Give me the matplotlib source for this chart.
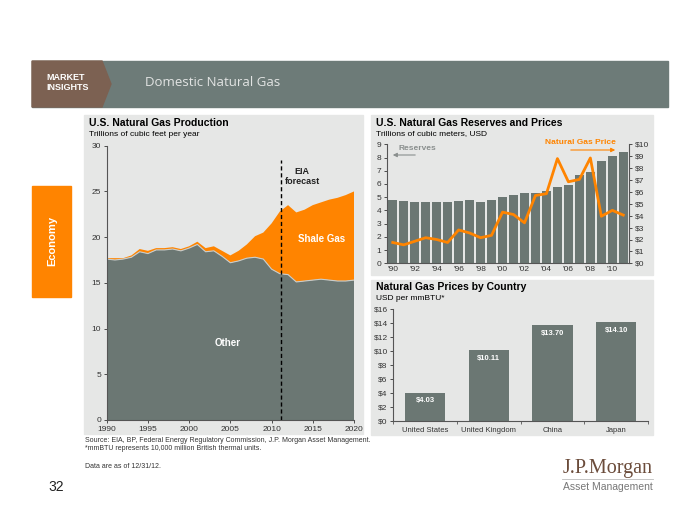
import numpy as np
import matplotlib
matplotlib.use('Agg')
import matplotlib.pyplot as plt
from matplotlib.patches import Rectangle, Polygon

plt.rcParams['font.family'] = ['Liberation Sans', 'DejaVu Sans']

# --- data ---
years = list(range(1990, 2021))
other = [17.6, 17.5, 17.6, 17.8, 18.4, 18.2, 18.6, 18.6, 18.7, 18.5, 18.8,
         19.2, 18.4, 18.5, 17.9, 17.2, 17.4, 17.7, 17.8, 17.6, 16.5,
         16.0, 15.9, 15.1, 15.2, 15.3, 15.4, 15.3, 15.2, 15.2, 15.3]
shale = [0.1, 0.2, 0.1, 0.2, 0.3, 0.3, 0.2, 0.2, 0.2, 0.2, 0.2,
         0.3, 0.4, 0.5, 0.6, 0.8, 1.1, 1.5, 2.3, 2.9, 5.0,
         6.8, 7.6, 7.6, 7.8, 8.2, 8.4, 8.8, 9.1, 9.4, 9.7]
forecast_start = 2011.2

res_years = list(range(1990, 2012))
reserves = [4.8, 4.7, 4.65, 4.6, 4.65, 4.65, 4.7, 4.75, 4.65, 4.75, 5.0,
            5.2, 5.3, 5.35, 5.45, 5.75, 5.95, 6.7, 6.9, 7.7, 8.15, 8.45]
gas_price = [1.75, 1.55, 1.85, 2.15, 2.0, 1.75, 2.8, 2.55, 2.15, 2.35, 4.3,
             4.1, 3.4, 5.7, 5.85, 8.8, 6.85, 7.05, 8.85, 3.95, 4.45, 4.05]
res_tick_years = list(range(1990, 2012, 2))
res_tick_labels = ["'90", "'92", "'94", "'96", "'98", "'00", "'02", "'04", "'06", "'08", "'10"]

countries = ['United States', 'United Kingdom', 'China', 'Japan']
country_price = [4.03, 10.11, 13.70, 14.10]

GRAY = '#6b7773'
ORANGE = '#ff8400'
PANEL = '#e6e7e6'
W, H = 700, 525

fig = plt.figure(figsize=(7, 5.25), dpi=100)


def box(l, t, r, b):
    return [l / W, 1 - b / H, (r - l) / W, (b - t) / H]


def pt(x, y):
    return (x / W, 1 - y / H)


def rect(l, t, r, b, color):
    fig.patches.append(Rectangle(pt(l, b), (r - l) / W, (b - t) / H,
                                 transform=fig.transFigure, color=color, zorder=-2))


# header band
rect(32, 61, 668, 107, '#6d7b78')
fig.patches.append(Polygon([pt(32, 61), pt(102, 61), pt(111, 84), pt(102, 107), pt(32, 107)],
                           closed=True, transform=fig.transFigure, color='#7c6152', zorder=-1))
fig.text(*pt(46, 77), 'MARKET', color='white', fontsize=6.5, fontweight='bold', va='center')
fig.text(*pt(46, 88), 'INSIGHTS', color='white', fontsize=6.5, fontweight='bold', va='center')
fig.text(*pt(145, 83), 'Domestic Natural Gas', color='#e2e4e3', fontsize=9.5,
         family='Open Sans', va='center')

# side tab
rect(32, 186, 71, 297, ORANGE)
fig.text(*pt(52, 241), 'Economy', color='white', fontsize=8, fontweight='bold',
         rotation=90, ha='center', va='center')

# panels
rect(84, 115, 363, 434, PANEL)
rect(371, 115, 653, 275, PANEL)
rect(371, 280, 653, 435, PANEL)


def style(ax):
    ax.set_facecolor('none')
    for s in ['top', 'right']:
        ax.spines[s].set_visible(False)
    for s in ax.spines.values():
        s.set_color('#555555')
        s.set_linewidth(0.8)
    ax.tick_params(labelsize=6, colors='#333333', length=2.5, width=0.6, pad=1.5)


# --- left: production ---
ax1 = fig.add_axes(box(106.7, 145.7, 354, 420))
ax1.stackplot(years, other, shale, colors=[GRAY, ORANGE], linewidth=0)
ax1.plot(years, other, color='#c9cdcc', lw=0.8)
ax1.plot([forecast_start, forecast_start], [0, 28.4], color='black', lw=1, ls=(0, (3, 2)))
ax1.set_xlim(1990, 2020)
ax1.set_ylim(0, 30)
ax1.set_xticks(range(1990, 2021, 5))
ax1.set_yticks(range(0, 31, 5))
style(ax1)
ax1.text(2016.1, 19.8, 'Shale Gas', color='white', fontsize=7, fontweight='bold', ha='center', va='center')
ax1.text(2004.7, 8.4, 'Other', color='white', fontsize=7, fontweight='bold', ha='center', va='center')
ax1.text(2013.7, 26.6, 'EIA\nforecast', color='#222222', fontsize=6.5, fontweight='bold',
         ha='center', va='center', linespacing=1.2)
fig.text(*pt(89, 123), 'U.S. Natural Gas Production', fontsize=7.5, fontweight='bold', va='center')
fig.text(*pt(89, 135), 'Trillions of cubic feet per year', fontsize=6, va='center')

# --- right top: reserves and prices ---
ax2 = fig.add_axes(box(386.7, 144.3, 629, 263.3))
ax2.bar(res_years, reserves, width=0.78, color=GRAY)
ax2.set_xlim(1989.45, 2011.52)
ax2.set_ylim(0, 9)
ax2.set_yticks(range(0, 10))
ax2.set_xticks(res_tick_years)
ax2.set_xticklabels(res_tick_labels)
style(ax2)
ax2.tick_params(axis='x', length=0, pad=2)
ax2b = ax2.twinx()
ax2b.plot(res_years, gas_price, color=ORANGE, lw=2)
ax2b.set_ylim(0, 10)
ax2b.set_yticks(range(0, 11))
ax2b.set_yticklabels(['$%d' % v for v in range(0, 11)])
style(ax2b)
ax2b.spines['left'].set_visible(False)
ax2b.spines['bottom'].set_visible(False)
ax2b.spines['right'].set_visible(True)
ax2b.spines['right'].set_color('#555555')
fig.text(*pt(376, 123), 'U.S. Natural Gas Reserves and Prices', fontsize=7.5, fontweight='bold', va='center')
fig.text(*pt(376, 134), 'Trillions of cubic meters, USD', fontsize=6, va='center')
fig.text(*pt(398, 149), 'Reserves', color='#8a8f8e', fontsize=6, fontweight='bold', va='center')
ax2b.annotate('', xy=pt(390, 155), xytext=pt(418, 155), xycoords='figure fraction',
              arrowprops=dict(arrowstyle='-|>', color='#8a8f8e', lw=0.8, mutation_scale=6))
fig.text(*pt(580, 143), 'Natural Gas Price', color=ORANGE, fontsize=6, fontweight='bold',
         ha='center', va='center')
ax2b.annotate('', xy=pt(618, 150), xytext=pt(568, 150), xycoords='figure fraction',
              arrowprops=dict(arrowstyle='-|>', color=ORANGE, lw=0.8, mutation_scale=6))

# --- right bottom: prices by country ---
ax3 = fig.add_axes(box(393.3, 309, 648, 421))
xpos = np.arange(len(countries))
ax3.bar(xpos, country_price, width=0.63, color=GRAY)
for x, v in zip(xpos, country_price):
    ax3.text(x, v - 1.15, '$%.2f' % v, color='white', fontsize=5.5, fontweight='bold',
             ha='center', va='center')
ax3.set_xlim(-0.5, 3.5)
ax3.set_ylim(0, 16)
ax3.set_yticks(range(0, 17, 2))
ax3.set_yticklabels(['$%d' % v for v in range(0, 17, 2)])
ax3.set_xticks(xpos)
ax3.set_xticklabels(countries)
ax3.set_xticks(np.arange(-0.5, 4, 1), minor=True)
style(ax3)
ax3.tick_params(axis='x', which='major', length=0, pad=4, labelsize=5.5)
ax3.tick_params(axis='x', which='minor', length=2.5, width=0.6, colors='#555555')
fig.text(*pt(376, 287), 'Natural Gas Prices by Country', fontsize=7.5, fontweight='bold', va='center')
fig.text(*pt(376, 298), 'USD per mmBTU*', fontsize=6, va='center')

# footer
fig.text(*pt(85, 440), 'Source: EIA, BP, Federal Energy Regulatory Commission, J.P. Morgan Asset Management.',
         fontsize=5, color='#333333', va='center')
fig.text(*pt(85, 449), '*mmBTU represents 10,000 million British thermal units.',
         fontsize=5, color='#333333', va='center')
fig.text(*pt(85, 466), 'Data are as of 12/31/12.', fontsize=5, color='#333333', va='center')
fig.text(*pt(48, 487), '32', fontsize=10, color='#222222', va='center')
fig.text(*pt(653, 469), 'J.P.Morgan', fontsize=14.5, family='Liberation Serif', color='#6b4c3b',
         ha='right', va='center')
fig.lines.append(plt.Line2D([562 / W, 653 / W], [1 - 479 / H, 1 - 479 / H],
                            transform=fig.transFigure, color='#bbbbbb', lw=0.6))
fig.text(*pt(653, 487), 'Asset Management', fontsize=7.5, color='#777777', ha='right', va='center')

fig.savefig('out.png', dpi=100, facecolor='white')
